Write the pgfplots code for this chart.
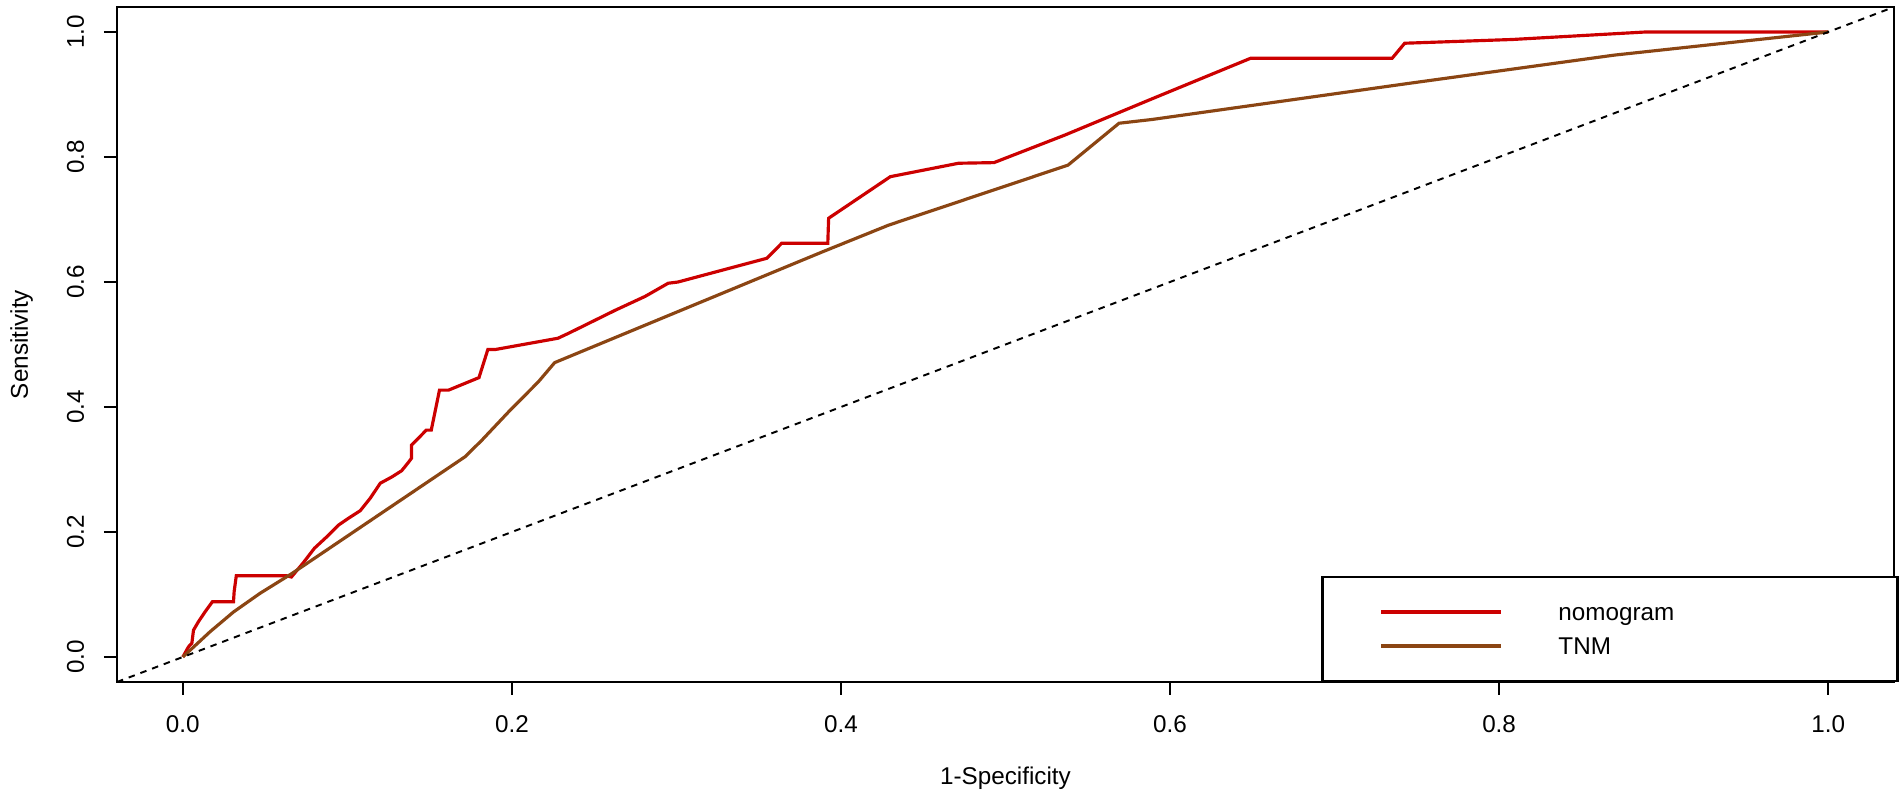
\documentclass[border=0pt]{standalone}
\usepackage{fontspec}
\setmainfont{Liberation Sans}
\usepackage{pgfplots}
\pgfplotsset{compat=1.18}
\definecolor{nomo}{HTML}{CC0000}
\definecolor{tnm}{HTML}{8B4513}
\newcommand{\lblfont}{\fontsize{6.9}{8}\selectfont}
\begin{document}
\begin{tikzpicture}
\begin{axis}[
  scale only axis, width=177.7mm, height=67.5mm,
  xmin=-0.04, xmax=1.04, ymin=-0.04, ymax=1.04,
  axis line style={line width=0.6pt, black},
  xtick={0,0.2,0.4,0.6,0.8,1}, ytick={0,0.2,0.4,0.6,0.8,1},
  xticklabels={0.0,0.2,0.4,0.6,0.8,1.0},
  yticklabels={0.0,0.2,0.4,0.6,0.8,1.0},
  tick align=outside, tick pos=left, major tick length=1.3mm,
  tick style={black, line width=0.6pt},
  ticklabel style={font=\lblfont},
  xticklabel style={anchor=base, yshift=-3.8mm},
  yticklabel style={anchor=base, xshift=-2.0mm, rotate=90},
  xlabel={1-Specificity}, ylabel={Sensitivity},
  every axis x label/.style={at={(rel axis cs:0.5,0)}, anchor=base, yshift=-10.3mm, font=\lblfont},
  every axis y label/.style={at={(rel axis cs:0,0.5)}, anchor=base, xshift=-8.9mm, rotate=90, font=\lblfont},
  legend cell align=left,
  legend style={at={(axis cs:0.692,-0.04)}, anchor=south west, draw=black, line width=0.6pt,
    fill=white, inner xsep=0pt, inner ysep=1.8mm, row sep=0pt, font=\lblfont,
    nodes={inner xsep=0pt, inner ysep=0pt, text width=33.9mm, align=left, anchor=west,
      text height=2.55mm, text depth=0.85mm}},
  legend image code/.code={\path[draw=none] (0mm,0mm) -- (23.6mm,0mm); \draw[#1] (5.9mm,0mm) -- (17.9mm,0mm);},
]
\addplot[nomo, line width=0.9pt] coordinates {
(0,0) (0.0035,0.0165) (0.0055,0.022) (0.0065,0.043) (0.0095,0.0565) (0.0136,0.0725)
(0.018,0.0885) (0.0308,0.0885) (0.0312,0.1045) (0.0325,0.13) (0.063,0.13) (0.066,0.128)
(0.073,0.15) (0.080,0.174) (0.0886,0.195) (0.0946,0.211) (0.1007,0.222) (0.1078,0.234)
(0.1139,0.254) (0.12,0.278) (0.127,0.288) (0.133,0.298) (0.137,0.311) (0.139,0.318)
(0.139,0.339) (0.148,0.363) (0.151,0.363) (0.156,0.427) (0.1615,0.427) (0.18,0.447)
(0.1854,0.492) (0.19,0.492) (0.228,0.51) (0.2345,0.518) (0.263,0.555) (0.281,0.577)
(0.295,0.598) (0.301,0.6) (0.355,0.638) (0.364,0.662) (0.392,0.662) (0.3925,0.702)
(0.43,0.7685) (0.4715,0.79) (0.493,0.791) (0.536,0.835) (0.589,0.893) (0.649,0.958)
(0.735,0.958) (0.7426,0.982) (0.808,0.988) (0.889,1.0) (1.0,1.0)
};
\addlegendentry{nomogram}
\addplot[tnm, line width=0.9pt] coordinates {
(0,0) (0.0166,0.0405) (0.0308,0.072) (0.047,0.102) (0.066,0.133) (0.1716,0.3205)
(0.1818,0.347) (0.199,0.395) (0.216,0.44) (0.226,0.471) (0.3155,0.5685) (0.389,0.6485)
(0.429,0.691) (0.538,0.787) (0.569,0.854) (0.589,0.86) (0.7457,0.918) (0.87,0.963) (1,1)
};
\addlegendentry{TNM}
\addplot[black, line width=0.55pt, dash pattern=on 0.65mm off 0.6mm, forget plot] coordinates {(-0.04,-0.04) (1.04,1.04)};
\end{axis}
\pgfresetboundingbox
\path[use as bounding box] (-11.7mm,-11.8mm) rectangle (178.5mm,68.2mm);
\end{tikzpicture}
\end{document}
